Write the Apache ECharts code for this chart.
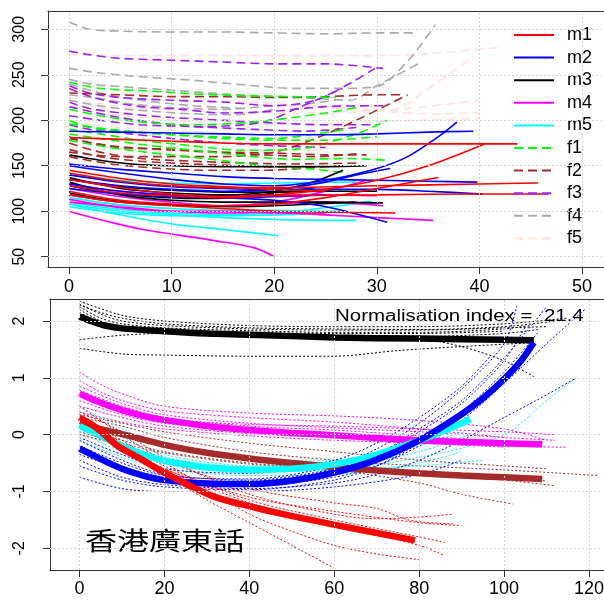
<!DOCTYPE html>
<html>
<head>
<meta charset="utf-8">
<script src="https://cdn.jsdelivr.net/npm/echarts@6/dist/echarts.min.js"></script>
<style>
  html, body { margin: 0; padding: 0; background: #fff; overflow: hidden; }
  #main { width: 630px; height: 600px; }
</style>
</head>
<body>
<div id="main"></div>
<script>
// tick values
var topXTicks = [0, 10, 20, 30, 40, 50];
var topYTicks = [50, 100, 150, 200, 250, 300];
var botXTicks = [0, 20, 40, 60, 80, 100, 120];
var botYTicks = [-2, -1, 0, 1, 2];

// legend entries (top panel)
var groupNames = ['m1', 'm2', 'm3', 'm4', 'm5', 'f1', 'f2', 'f3', 'f4', 'f5'];
var groupColors = ['#FF0000', '#0000FF', '#000000', '#FF00FF', '#00FFFF',
                   '#00FF00', '#A52A2A', '#A020F0', '#AAAAAA', '#FFE4E1'];

// top panel: raw contours per speaker group
var m1Lines = [
  [[0,181],[5,179],[10,177],[15,175],[20,174],[30,174],[40,174],[43.7,174]],
  [[0,135],[5,126],[10,119],[15,116],[20,118],[25,124],[30,134],[35,150],[40.5,174]],
  [[0,142],[5,133],[10,128],[15,126],[20,126],[30,128],[40,130],[45.7,131]],
  [[0,128],[5,120],[10,117],[15,115],[20,117],[30,118],[40,119],[46.7,119]],
  [[0,122],[5,112],[10,108],[15,106],[20,108],[25,115],[30,125],[36,137]],
  [[0,118],[5,110],[10,106],[15,103],[20,100],[25,99],[31.8,98]],
  [[0,145],[5,136],[10,130],[15,127],[20,124],[25,122]]
];
var m2Lines = [
  [[0,188],[5,187],[10,186],[15,185],[20,184],[25,184],[30,185],[35,187],[39.4,188]],
  [[0,150],[5,142],[10,135],[15,130],[20,128],[25,134],[30,147],[33,160],[36,182],[37.8,198]],
  [[0,152],[5,146],[10,142],[15,138],[20,136],[25,135],[30,134],[35,133],[39.8,132]],
  [[0,140],[5,132],[10,127],[15,125],[20,124],[25,124],[30,124],[35,122],[40.3,119]],
  [[0,130],[5,122],[10,118],[15,115],[20,112],[25,105],[31,88]],
  [[0,135],[5,128],[10,124],[15,122],[20,124],[25,132],[28,140],[31.3,147]],
  [[0,125],[5,119],[10,116],[15,115],[20,116],[25,118]]
];
var m3Lines = [
  [[0,162],[3,156],[6,152],[10,150],[15,149],[20,149],[25,149],[29,150]],
  [[0,137],[5,125],[10,120],[15,118],[20,122],[24,133],[26.7,145]],
  [[0,132],[5,118],[10,112],[15,110],[20,110],[25,110],[30.6,109]],
  [[0,135],[5,127],[10,123],[15,121],[20,121],[25,122],[30,122]],
  [[0,120],[4,112],[8,108],[12,106],[16,105],[20,106],[24,108],[28,110]],
  [[0,128],[4,120],[8,116],[12,114],[16,115],[20,120],[24,126]]
];
var m4Lines = [
  [[0,100],[4,88],[7.6,79],[10,75],[14,68],[18,60],[20,50]],
  [[0,110],[5,105],[10,100],[15,98],[20,99],[25,96],[30,93],[35.5,90]],
  [[0,118],[5,110],[10,107],[15,106],[20,108],[25,110],[30.6,106]],
  [[0,125],[5,116],[10,110],[15,106],[20,110],[25,122],[29,134]],
  [[0,113],[5,104],[10,100],[15,100],[20,98],[25,97]],
  [[0,130],[5,122],[10,118],[15,117],[20,118],[25,118],[30,117]]
];
var m5Lines = [
  [[0,108],[4,98],[10,86],[15,80],[20.4,73]],
  [[0,108],[5,100],[10,96],[15,93],[20,91],[25,90],[28,90]],
  [[0,110],[5,102],[10,98],[15,96],[20,98],[25,104],[29.5,111]],
  [[0,115],[5,107],[10,103],[15,101],[20,101],[25,100],[27,100]],
  [[0,140],[5,134],[10,131],[15,130],[20,131],[25,132],[28,132]],
  [[0,105],[5,98],[10,95],[15,95],[20,96],[25,97]]
];
var f1Lines = [
  [[0,242],[3,235],[8,232],[12,229],[17,227],[22,226],[26,225]],
  [[0,200],[2,192],[5,188],[10,184],[15,180],[20,178],[25,178],[30,182]],
  [[0,190],[3,185],[7,178],[12,172],[17,167],[22,168],[28,185],[31,200]],
  [[0,212],[3,205],[7,198],[12,195],[18,198],[25,208],[28,214]],
  [[0,185],[3,180],[8,172],[13,166],[18,160],[22,157],[27,158],[31,156]],
  [[0,196],[4,190],[8,186],[14,182],[20,180],[24,185],[27,190]],
  [[0,178],[4,170],[9,163],[14,157],[19,150],[24,146],[27,142]]
];
var f2Lines = [
  [[0,182],[2,175],[5,170],[10,168],[15,165],[20,164],[25,162],[29,162]],
  [[0,175],[3,165],[7,158],[12,155],[17,153],[22,152],[28,153]],
  [[0,168],[3,160],[7,155],[12,152],[17,150],[22,148],[27,150]],
  [[0,230],[5,228],[10,226],[15,226],[20,225],[25,226],[30,228],[32.6,228]],
  [[0,165],[5,160],[10,160],[15,160],[20,165],[24,180],[28,200],[33,228]],
  [[0,180],[4,172],[9,168],[14,165],[19,162],[24,160],[28,163]],
  [[0,160],[4,152],[9,147],[14,145],[19,145],[24,148]]
];
var f3Lines = [
  [[0,276],[2,272],[5,268],[10,266],[15,264],[20,262],[25,262],[30.6,257]],
  [[0,238],[2,230],[5,225],[10,222],[15,220],[20,216],[24,222],[27.6,242],[29.8,257]],
  [[0,220],[2,213],[5,208],[10,203],[15,200],[20,197],[25,195],[30,195]],
  [[0,205],[3,200],[7,195],[12,193],[18,190],[23,188],[28,192]],
  [[0,235],[3,223],[7,215],[11,212],[15,208],[20,210],[25,215],[31,216]],
  [[0,195],[2,190],[6,185],[10,180],[15,175],[20,172],[25,170]],
  [[0,215],[4,205],[8,198],[13,193],[18.9,198],[22,212],[26.6,235]]
];
var f4Lines = [
  [[0,308],[2,300],[5,298],[10,297],[15,297],[20,296],[25,295],[30,296],[33.5,296]],
  [[0,257],[3,252],[8,247],[12,244],[18,238],[22,235],[26,235],[30,237],[33,265],[35.7,305]],
  [[0,245],[2,240],[5,237],[10,233],[15,229],[20,226],[24,224],[27.4,222],[30,238],[34.2,263]],
  [[0,228],[3,224],[6,218],[10,214],[15,212],[20,216],[23,218],[26,222]],
  [[0,222],[4,214],[8,210],[12,207],[16,206],[20,212]],
  [[0,240],[3,230],[7,222],[12,216],[17,213]]
];
var f5Lines = [
  [[0,272],[10,271],[20,271],[30,271],[35,273],[42,280]],
  [[0,232],[5,225],[10,222],[15,220],[20,218],[25,215],[31.3,211],[35,235],[39.4,270]],
  [[0,245],[4,235],[8,228],[12,222],[18,220],[24,215],[30,210],[36,207],[40,208]],
  [[0,212],[5,205],[10,200],[16,197],[22,195],[28,198],[34,200],[40,202]],
  [[0,225],[5,215],[12,210],[20,208],[30,210],[40,222]],
  [[0,198],[5,192],[12,188],[20,183],[25,180]],
  [[0,170],[5,168],[12,165],[18,162]]
];

// bottom panel: normalised contours (thin dotted)
var blackRaw = [
  [[0,2.3],[5,2.12],[10,2.0],[20,1.92],[40,1.86],[60,1.84],[80,1.84],[100,1.88],[110,1.9]],
  [[0,2.25],[5,2.05],[10,1.95],[20,1.88],[40,1.83],[60,1.8],[80,1.8],[100,1.86],[106,1.92]],
  [[0,2.2],[5,2.0],[10,1.9],[20,1.85],[40,1.8],[60,1.78],[80,1.78],[100,1.82]],
  [[0,2.15],[5,1.98],[10,1.88],[20,1.82],[40,1.78],[60,1.74],[80,1.73],[100,1.78],[108,1.85]],
  [[0,2.35],[10,2.1],[20,2.0],[40,1.92],[60,1.9],[80,1.9],[100,1.95],[115,2.05]],
  [[0,1.67],[10,1.75],[20,1.78],[40,1.74],[60,1.7],[80,1.68],[90,1.55],[100,1.3],[107,1.02]],
  [[0,1.52],[10,1.42],[20,1.4],[40,1.38],[60,1.38],[75,1.48],[90,1.55],[107,1.62]],
  [[0,2.28],[5,2.15],[10,2.05],[20,1.95],[40,1.88],[60,1.86],[80,1.85],[100,1.9],[112,2.0]]
];
var magentaRaw = [
  [[0,1.1],[5,0.88],[10,0.72],[20,0.5],[40,0.38],[60,0.33],[80,0.25],[100,0.1],[110,-0.1]],
  [[0,0.95],[5,0.75],[10,0.6],[20,0.42],[40,0.3],[60,0.22],[80,0.1],[100,-0.05]],
  [[0,0.85],[10,0.55],[20,0.35],[40,0.2],[60,0.12],[80,0.05],[100,-0.05],[112,-0.1]],
  [[0,0.6],[10,0.35],[20,0.2],[40,0.08],[60,0.0],[80,-0.08],[100,-0.2],[115,-0.22]],
  [[0,0.5],[10,0.3],[20,0.15],[40,0.02],[60,-0.05],[80,-0.12],[100,-0.18]],
  [[0,0.78],[10,0.5],[20,0.3],[40,0.15],[60,0.08],[80,-0.02],[100,-0.12],[108,-0.15]],
  [[0,0.4],[10,0.22],[20,0.1],[40,-0.02],[60,-0.1],[80,-0.15],[100,-0.22]],
  [[0,0.7],[10,0.45],[20,0.28],[40,0.18],[60,0.15],[80,0.1],[100,0.05],[112,0.0]]
];
var blueRaw = [
  [[0,-0.1],[10,-0.45],[20,-0.7],[40,-0.8],[60,-0.6],[70,-0.35],[80,0.05],[90,0.55],[100,1.3],[105,1.9]],
  [[0,-0.2],[10,-0.5],[20,-0.72],[40,-0.78],[60,-0.55],[70,-0.25],[80,0.2],[90,0.8],[100,1.6],[103,2.27]],
  [[0,-0.3],[10,-0.6],[20,-0.8],[40,-0.9],[60,-0.75],[70,-0.55],[80,-0.2],[90,0.25],[100,0.9],[110,1.6],[119,2.2]],
  [[0,-0.45],[10,-0.75],[20,-0.88],[40,-0.95],[60,-0.85],[70,-0.7],[80,-0.45],[90,-0.1],[100,0.3],[110,0.7],[117,1.0]],
  [[0,-0.75],[10,-0.95],[20,-1.0],[40,-1.0],[60,-0.92],[80,-0.7],[90,-0.45]],
  [[0,-0.05],[10,-0.35],[20,-0.6],[40,-0.68],[60,-0.45],[70,-0.15],[80,0.3],[90,0.85],[97,1.4]],
  [[0,-0.55],[10,-0.8],[20,-0.92],[40,-0.97],[60,-0.8],[70,-0.55],[80,-0.15],[90,0.4],[100,1.1],[108,1.8]],
  [[0,-0.35],[10,-0.6],[20,-0.78],[40,-0.82],[60,-0.62],[70,-0.35],[80,0.1],[90,0.6],[100,1.35],[110,2.25]]
];
var cyanRaw = [
  [[0,0.5],[10,0.1],[20,-0.2],[40,-0.45],[60,-0.45],[80,-0.2],[90,0.05]],
  [[0,0.3],[10,-0.05],[20,-0.35],[40,-0.55],[60,-0.55],[80,-0.3],[92,0.0]],
  [[0,0.05],[10,-0.3],[20,-0.5],[40,-0.65],[60,-0.62],[80,-0.4],[100,0.0],[110,0.6],[117,1.0]],
  [[0,-0.1],[10,-0.4],[20,-0.6],[40,-0.72],[60,-0.7],[80,-0.5],[90,-0.3]],
  [[0,0.2],[10,-0.15],[20,-0.4],[40,-0.58],[60,-0.6],[80,-0.55],[95,-0.45]]
];
var redRaw = [
  [[0,0.5],[10,0.0],[20,-0.45],[40,-0.95],[60,-1.2],[70,-1.3],[78,-1.51],[88,-1.57]],
  [[0,0.35],[10,-0.15],[20,-0.6],[40,-1.1],[60,-1.35],[80,-1.55],[90,-1.6]],
  [[0,0.1],[10,-0.25],[20,-0.6],[40,-1.2],[60,-1.6],[80,-1.95],[86,-2.13]],
  [[0,0.2],[10,-0.25],[20,-0.7],[30,-1.15],[40,-1.55],[50,-1.95],[60,-2.35]],
  [[0,0.0],[10,-0.2],[20,-0.5],[30,-0.95],[40,-1.4],[50,-1.7],[60,-1.95],[70,-2.1],[80,-2.2]],
  [[0,0.4],[10,0.05],[20,-0.4],[40,-1.05],[60,-1.4],[70,-1.48],[80,-1.45],[88,-1.4]],
  [[0,0.3],[10,-0.1],[20,-0.55],[40,-1.15],[60,-1.5],[80,-1.8],[86,-1.9]]
];
var brownRaw = [
  [[0,0.3],[10,0.15],[20,-0.05],[40,-0.3],[60,-0.45],[80,-0.55],[100,-0.62],[122,-0.72]],
  [[0,0.2],[10,0.0],[20,-0.2],[40,-0.4],[60,-0.55],[80,-0.65],[100,-0.72],[110,-0.82]],
  [[0,0.1],[10,-0.1],[20,-0.3],[40,-0.5],[60,-0.62],[80,-0.85],[90,-1.05],[102,-1.22]],
  [[0,0.35],[10,0.2],[20,0.05],[40,-0.15],[60,-0.3],[80,-0.45],[100,-0.55],[110,-0.6]],
  [[0,0.05],[10,-0.15],[20,-0.32],[40,-0.52],[60,-0.6],[80,-0.7],[100,-0.8],[112,-0.9]]
];

// bottom panel: group means (thick)
var blackFit = [[0,2.08],[3,1.99],[6,1.92],[10,1.87],[20,1.82],[30,1.78],[40,1.76],[60,1.71],[80,1.69],[100,1.67],[107,1.66]];
var magentaFit = [[0,0.72],[5,0.56],[10,0.43],[15,0.33],[20,0.26],[30,0.15],[40,0.08],[50,0.03],[60,-0.01],[70,-0.06],[80,-0.1],[90,-0.13],[100,-0.15],[109,-0.17]];
var brownFit = [[0,0.18],[10,0.01],[20,-0.18],[30,-0.32],[40,-0.42],[50,-0.5],[60,-0.57],[70,-0.63],[80,-0.68],[90,-0.72],[100,-0.75],[109,-0.78]];
var cyanFit = [[0,0.15],[5,-0.02],[10,-0.2],[15,-0.35],[20,-0.46],[25,-0.53],[30,-0.58],[40,-0.62],[50,-0.6],[60,-0.52],[70,-0.35],[80,-0.1],[86,0.07],[92,0.27]];
var blueFit = [[0,-0.24],[5,-0.43],[10,-0.6],[15,-0.72],[20,-0.8],[30,-0.86],[40,-0.87],[50,-0.81],[60,-0.67],[70,-0.44],[80,-0.1],[90,0.36],[95,0.64],[100,0.98],[104,1.3],[107,1.62]];
var redFit = [[0,0.3],[4,0.12],[9,-0.2],[14,-0.41],[19,-0.63],[25,-0.86],[32,-1.1],[40,-1.26],[48,-1.4],[59,-1.57],[70,-1.73],[79,-1.86]];

var normIndex = 21.4;

var FONT = '"Liberation Sans", Arial, sans-serif';

var myChart = echarts.init(document.getElementById('main'));

function lineSeries(name, lines, color, width, type, gi, z) {
    return lines.map(function (pts) {
        return {
            type: 'line', name: name, data: pts,
            xAxisIndex: gi, yAxisIndex: gi,
            symbol: 'none', showSymbol: false,
            smooth: 0.3,
            silent: true, z: z,
            lineStyle: { color: color, width: width, type: type },
            itemStyle: { color: color },
            emphasis: { disabled: true }
        };
    });
}

function gridLines(gi, xs, ys) {
    return {
        type: 'line', name: 'grid' + gi, data: [], silent: true, z: 1,
        xAxisIndex: gi, yAxisIndex: gi,
        markLine: {
            silent: true, symbol: 'none', animation: false,
            label: { show: false },
            lineStyle: { color: '#D3D3D3', type: [2, 2], width: 1 },
            emphasis: { disabled: true },
            data: xs.map(function (v) { return { xAxis: v }; })
                .concat(ys.map(function (v) { return { yAxis: v }; }))
        }
    };
}

var boxLine = { show: true, onZero: false, lineStyle: { color: '#333', width: 1 } };

function xAxisCfg(gi, min, max, ticks, margin) {
    return {
        type: 'value', gridIndex: gi, min: min, max: max, position: 'bottom',
        axisLine: boxLine,
        splitLine: { show: false },
        axisTick: { show: true, inside: false, length: 7, customValues: ticks,
                    lineStyle: { color: '#333', width: 1 } },
        axisLabel: { customValues: ticks, margin: margin, color: '#000',
                     fontSize: 18, fontFamily: FONT }
    };
}
// top edge of the plot box
function xTopCfg(gi, min, max) {
    return {
        type: 'value', gridIndex: gi, min: min, max: max, position: 'top',
        axisLine: boxLine,
        splitLine: { show: false },
        axisTick: { show: false },
        axisLabel: { show: false }
    };
}
function yAxisCfg(gi, min, max, ticks, margin) {
    return {
        type: 'value', gridIndex: gi, min: min, max: max, position: 'left',
        axisLine: boxLine,
        splitLine: { show: false },
        axisTick: { show: true, inside: false, length: 7, customValues: ticks,
                    lineStyle: { color: '#333', width: 1 } },
        axisLabel: { customValues: ticks, margin: margin, rotate: 90, color: '#000',
                     fontSize: 16, fontFamily: FONT }
    };
}

var topGroups = [m1Lines, m2Lines, m3Lines, m4Lines, m5Lines, f1Lines, f2Lines, f3Lines, f4Lines, f5Lines];
var series = [gridLines(0, topXTicks, topYTicks), gridLines(1, botXTicks, botYTicks)];

// dashed female groups first, solid male groups on top
for (var i = 9; i >= 0; i--) {
    var dashed = i >= 5;
    series = series.concat(lineSeries(groupNames[i], topGroups[i], groupColors[i], 1.6,
        dashed ? [9, 5] : 'solid', 0, 2));
}

var rawGroups = [
    ['bk', blackRaw, '#000000'], ['mg', magentaRaw, '#FF00FF'], ['br', brownRaw, '#A52A2A'],
    ['cy', cyanRaw, '#00FFFF'], ['bl', blueRaw, '#0000FF'], ['rd', redRaw, '#FF0000']
];
rawGroups.forEach(function (g) {
    series = series.concat(lineSeries(g[0] + 'raw', g[1], g[2], 1, [2, 2], 1, 2));
});
var fitGroups = [
    ['bk', blackFit, '#000000'], ['mg', magentaFit, '#FF00FF'], ['br', brownFit, '#A52A2A'],
    ['cy', cyanFit, '#00FFFF'], ['bl', blueFit, '#0000FF'], ['rd', redFit, '#FF0000']
];
fitGroups.forEach(function (g) {
    series = series.concat(lineSeries(g[0] + 'fit', [g[1]], g[2], 6.5, 'solid', 1, 3));
});

var option = {
    animation: false,
    backgroundColor: '#fff',
    grid: [
        { left: 48, top: 11, width: 570, height: 256, show: false, containLabel: false,
          outerBoundsMode: 'none' },
        { left: 50, top: 299, width: 570, height: 271, show: false, containLabel: false,
          outerBoundsMode: 'none' }
    ],
    xAxis: [
        xAxisCfg(0, -2.05, 53.5, topXTicks, 11),
        xAxisCfg(1, -6.95, 127.3, botXTicks, 10),
        xTopCfg(0, -2.05, 53.5),
        xTopCfg(1, -6.95, 127.3)
    ],
    yAxis: [
        yAxisCfg(0, 38.7, 320.1, topYTicks, 20),
        yAxisCfg(1, -2.382, 2.387, botYTicks, 22)
    ],
    legend: {
        data: groupNames,
        orient: 'vertical',
        left: 508, top: 21,
        itemWidth: 40, itemHeight: 14, itemGap: 4.6,
        selectedMode: false,
        itemStyle: { opacity: 0 },
        lineStyle: { width: 2 },
        textStyle: { fontSize: 18, fontFamily: FONT, color: '#000', padding: [0, 0, 0, 8] }
    },
    graphic: [
        { type: 'text', x: 335, y: 317, scaleX: 1.28, silent: true,
          style: { text: 'Normalisation index =  ' + normIndex, fontSize: 16,
                   fontFamily: FONT, fill: '#000', verticalAlign: 'middle' } },
        { type: 'text', x: 85, y: 540, scaleX: 1.28, silent: true,
          style: { text: '香港廣東話', fontSize: 25, verticalAlign: 'middle',
                   fontFamily: '"Noto Sans CJK TC", "Noto Sans CJK SC", sans-serif', fill: '#000' } },
        // plain white strip past the right edge of the window (open right side)
        { type: 'rect', silent: true, z: 100,
          shape: { x: 601, y: 13, width: 40, height: 252 },
          style: { fill: '#fff' } },
        { type: 'rect', silent: true, z: 100,
          shape: { x: 601, y: 301, width: 40, height: 267 },
          style: { fill: '#fff' } }
    ],
    series: series
};

myChart.setOption(option);

window.addEventListener('resize', function () {
    myChart.resize();
});
</script>
</body>
</html>
